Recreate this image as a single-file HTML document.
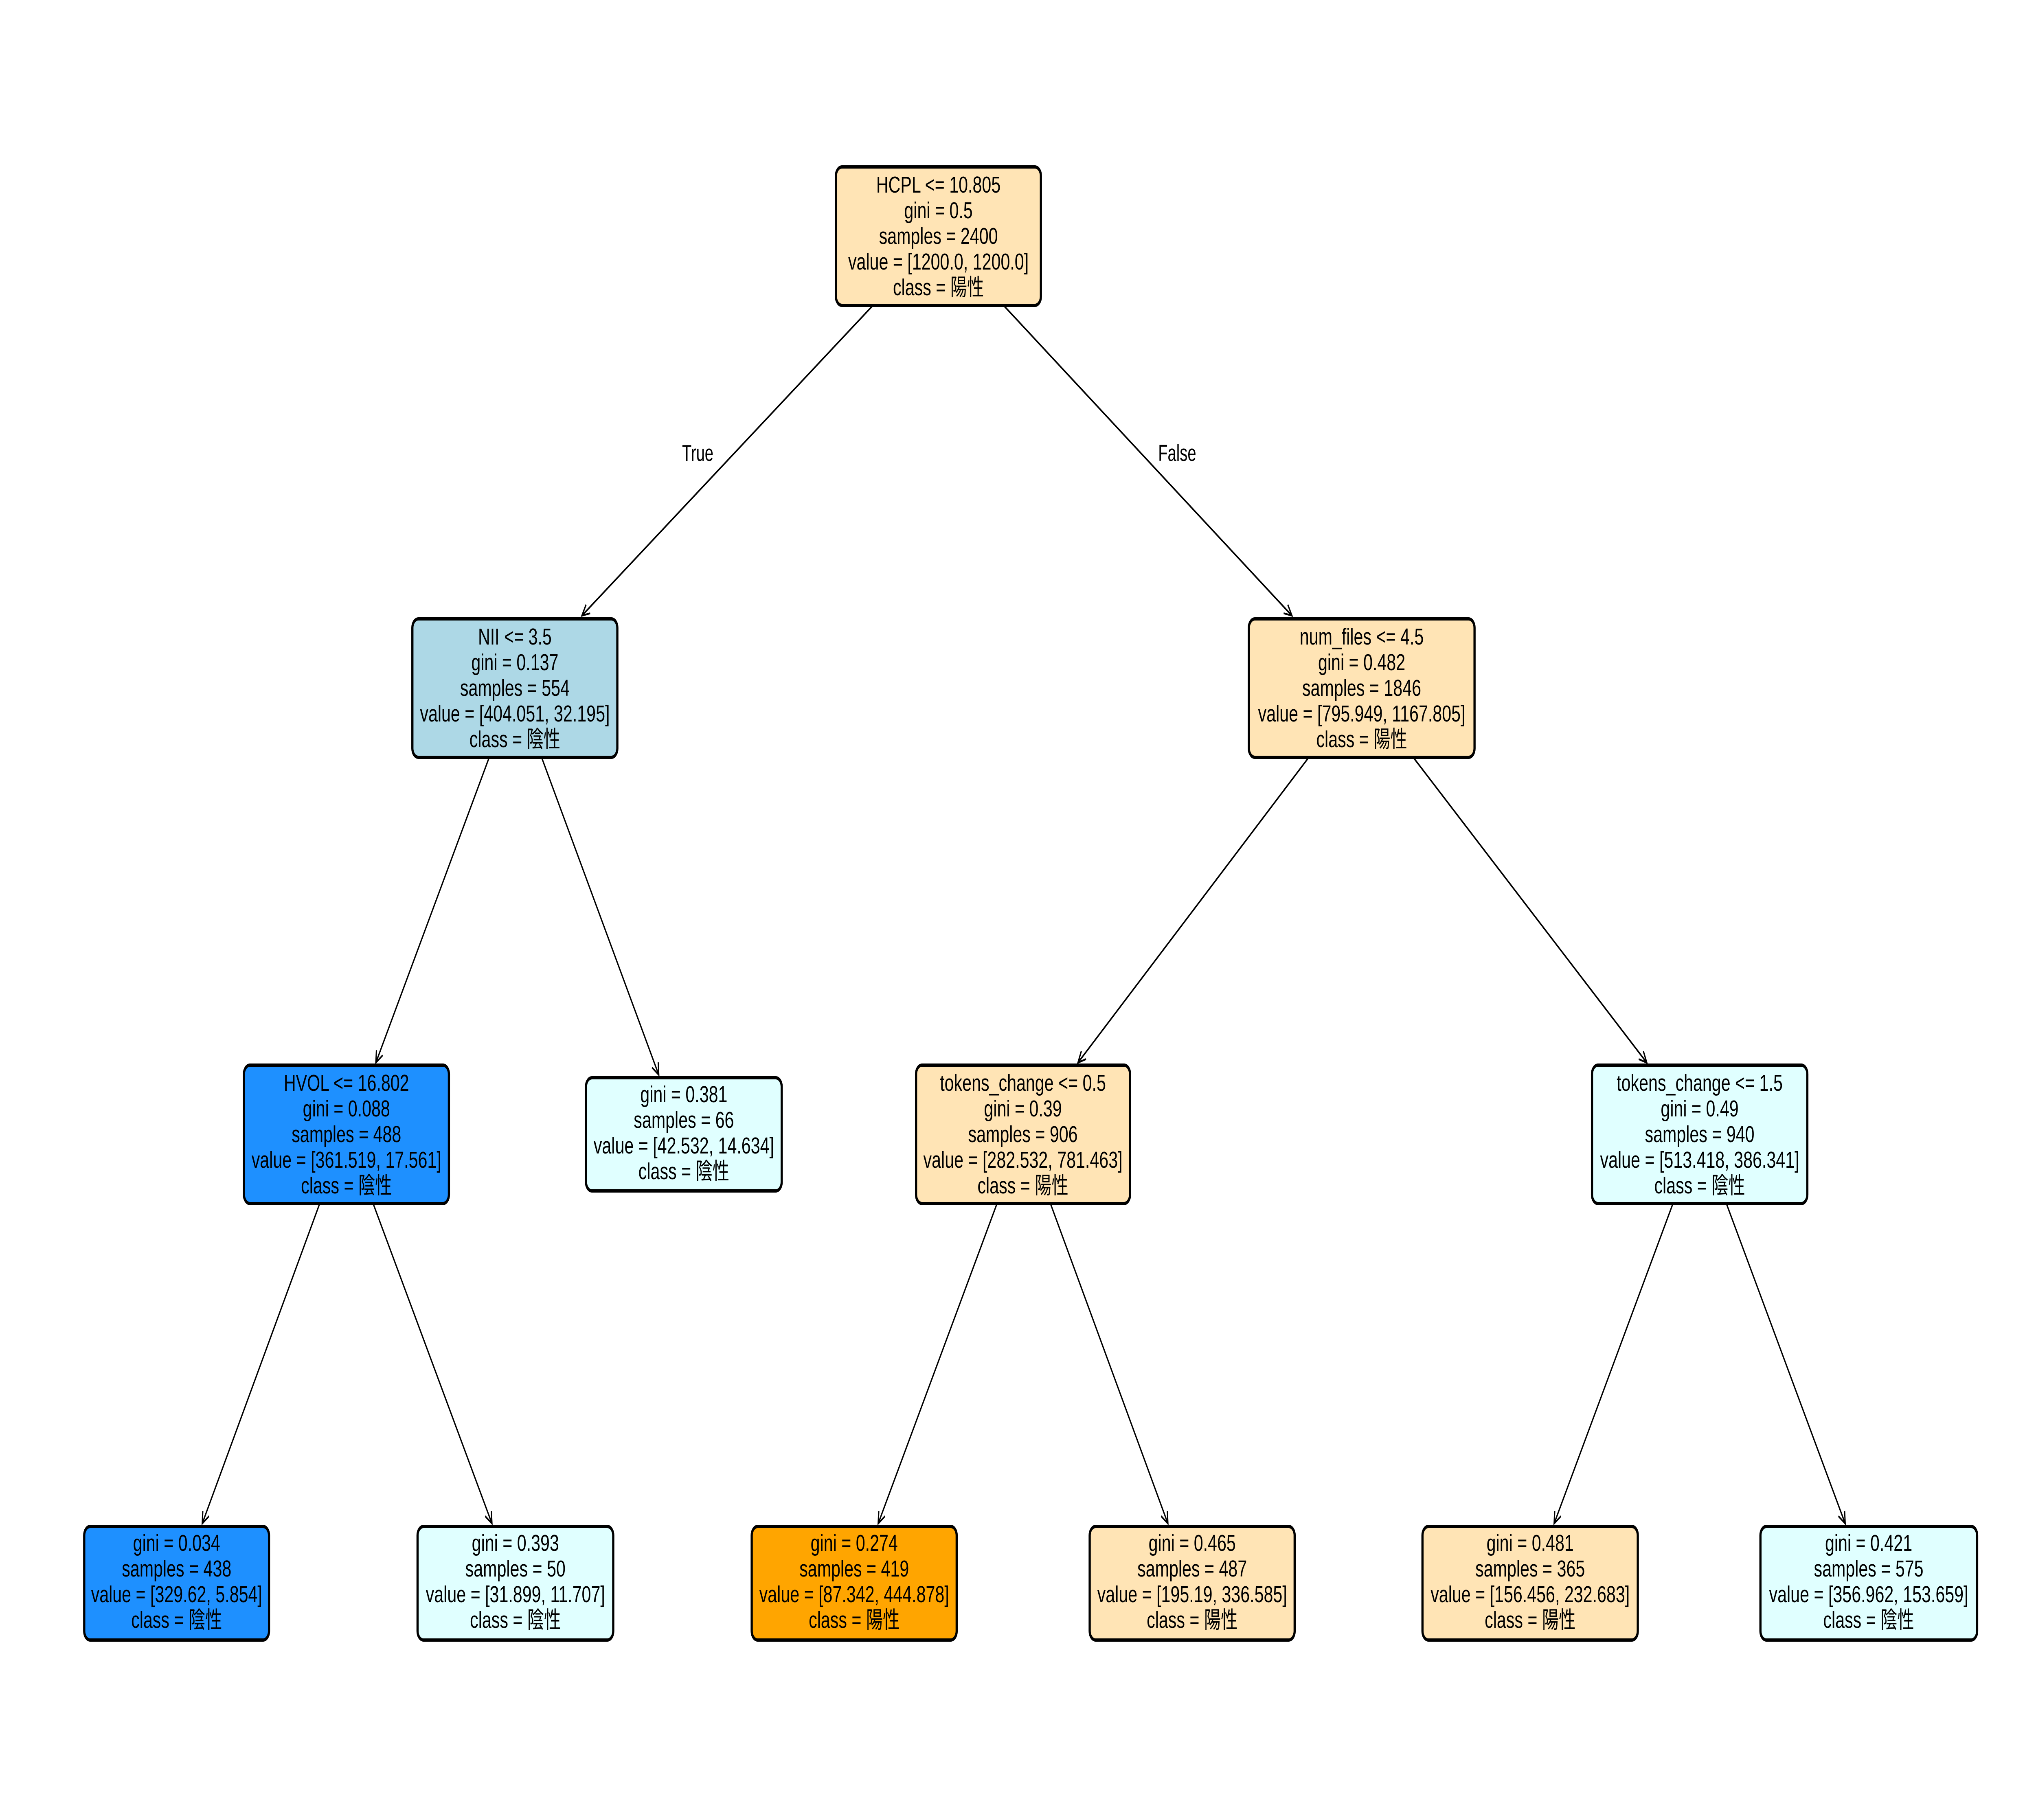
<!DOCTYPE html>
<html><head><meta charset="utf-8"><style>
html,body{margin:0;padding:0;background:#fff;width:100%;height:100%;overflow:hidden;}
svg{display:block;width:100vw;height:100vh}
text{font-family:"Liberation Sans","Noto Sans CJK JP",sans-serif;font-size:57px;fill:#000}
</style></head><body>
<svg viewBox="0 0 7470 4470" preserveAspectRatio="none" xmlns="http://www.w3.org/2000/svg">
<defs>
<marker id="a" markerWidth="40" markerHeight="40" refX="30" refY="15" orient="auto" markerUnits="userSpaceOnUse">
<path d="M2,2 L30,15 L2,28" fill="none" stroke="#000" stroke-width="4.5"/>
</marker>
</defs>
<g stroke="#000" stroke-width="4.5" fill="none" marker-end="url(#a)">
<line x1="3203" y1="750" x2="2135" y2="1512"/>
<line x1="3682" y1="750" x2="4740" y2="1512"/>
<line x1="1795" y1="1860" x2="1379" y2="2610"/>
<line x1="1987" y1="1860" x2="2417" y2="2640"/>
<line x1="4802" y1="1860" x2="3955" y2="2610"/>
<line x1="5185" y1="1860" x2="6042" y2="2610"/>
<line x1="1173" y1="2956" x2="742" y2="3742"/>
<line x1="1369" y1="2956" x2="1805" y2="3742"/>
<line x1="3658" y1="2956" x2="3222" y2="3742"/>
<line x1="3854" y1="2956" x2="4285" y2="3742"/>
<line x1="6138" y1="2956" x2="5702" y2="3742"/>
<line x1="6334" y1="2956" x2="6770" y2="3742"/>
</g>
<text x="2560" y="1132" text-anchor="middle">True</text>
<text x="4319" y="1132" text-anchor="middle">False</text>
<g stroke="#000" stroke-width="8">
<rect x="3067" y="410" width="752" height="340" rx="22" fill="#FFE4B5"/>
<rect x="1513" y="1520" width="752" height="340" rx="22" fill="#ADD8E6"/>
<rect x="4582" y="1520" width="828" height="340" rx="22" fill="#FFE4B5"/>
<rect x="895" y="2616" width="752" height="340" rx="22" fill="#1E90FF"/>
<rect x="2150" y="2647" width="718" height="278" rx="22" fill="#E0FFFF"/>
<rect x="3361" y="2616" width="785" height="340" rx="22" fill="#FFE4B5"/>
<rect x="5841" y="2616" width="790" height="340" rx="22" fill="#E0FFFF"/>
<rect x="309" y="3749" width="678" height="279" rx="22" fill="#1E90FF"/>
<rect x="1532" y="3749" width="718" height="279" rx="22" fill="#E0FFFF"/>
<rect x="2758" y="3749" width="752" height="279" rx="22" fill="#FFA500"/>
<rect x="3998" y="3749" width="752" height="279" rx="22" fill="#FFE4B5"/>
<rect x="5219" y="3749" width="790" height="279" rx="22" fill="#FFE4B5"/>
<rect x="6459" y="3749" width="795" height="279" rx="22" fill="#E0FFFF"/>
</g>
<g text-anchor="middle">
<g transform="translate(3443,0) scale(1.08,1)"><text x="0" y="473">HCPL &lt;= 10.805</text><text x="0" y="536">gini = 0.5</text><text x="0" y="599">samples = 2400</text><text x="0" y="662">value = [1200.0, 1200.0]</text><text x="0" y="725">class = 陽性</text></g>
<g transform="translate(1889,0) scale(1.08,1)"><text x="0" y="1583">NII &lt;= 3.5</text><text x="0" y="1646">gini = 0.137</text><text x="0" y="1709">samples = 554</text><text x="0" y="1772">value = [404.051, 32.195]</text><text x="0" y="1835">class = 陰性</text></g>
<g transform="translate(4996,0) scale(1.08,1)"><text x="0" y="1583">num_files &lt;= 4.5</text><text x="0" y="1646">gini = 0.482</text><text x="0" y="1709">samples = 1846</text><text x="0" y="1772">value = [795.949, 1167.805]</text><text x="0" y="1835">class = 陽性</text></g>
<g transform="translate(1271,0) scale(1.08,1)"><text x="0" y="2679">HVOL &lt;= 16.802</text><text x="0" y="2742">gini = 0.088</text><text x="0" y="2805">samples = 488</text><text x="0" y="2868">value = [361.519, 17.561]</text><text x="0" y="2931">class = 陰性</text></g>
<g transform="translate(2509,0) scale(1.08,1)"><text x="0" y="2707">gini = 0.381</text><text x="0" y="2770">samples = 66</text><text x="0" y="2833">value = [42.532, 14.634]</text><text x="0" y="2896">class = 陰性</text></g>
<g transform="translate(3753,0) scale(1.08,1)"><text x="0" y="2679">tokens_change &lt;= 0.5</text><text x="0" y="2742">gini = 0.39</text><text x="0" y="2805">samples = 906</text><text x="0" y="2868">value = [282.532, 781.463]</text><text x="0" y="2931">class = 陽性</text></g>
<g transform="translate(6236,0) scale(1.08,1)"><text x="0" y="2679">tokens_change &lt;= 1.5</text><text x="0" y="2742">gini = 0.49</text><text x="0" y="2805">samples = 940</text><text x="0" y="2868">value = [513.418, 386.341]</text><text x="0" y="2931">class = 陰性</text></g>
<g transform="translate(648,0) scale(1.08,1)"><text x="0" y="3809">gini = 0.034</text><text x="0" y="3872">samples = 438</text><text x="0" y="3935">value = [329.62, 5.854]</text><text x="0" y="3998">class = 陰性</text></g>
<g transform="translate(1891,0) scale(1.08,1)"><text x="0" y="3809">gini = 0.393</text><text x="0" y="3872">samples = 50</text><text x="0" y="3935">value = [31.899, 11.707]</text><text x="0" y="3998">class = 陰性</text></g>
<g transform="translate(3134,0) scale(1.08,1)"><text x="0" y="3809">gini = 0.274</text><text x="0" y="3872">samples = 419</text><text x="0" y="3935">value = [87.342, 444.878]</text><text x="0" y="3998">class = 陽性</text></g>
<g transform="translate(4374,0) scale(1.08,1)"><text x="0" y="3809">gini = 0.465</text><text x="0" y="3872">samples = 487</text><text x="0" y="3935">value = [195.19, 336.585]</text><text x="0" y="3998">class = 陽性</text></g>
<g transform="translate(5614,0) scale(1.08,1)"><text x="0" y="3809">gini = 0.481</text><text x="0" y="3872">samples = 365</text><text x="0" y="3935">value = [156.456, 232.683]</text><text x="0" y="3998">class = 陽性</text></g>
<g transform="translate(6856,0) scale(1.08,1)"><text x="0" y="3809">gini = 0.421</text><text x="0" y="3872">samples = 575</text><text x="0" y="3935">value = [356.962, 153.659]</text><text x="0" y="3998">class = 陰性</text></g>
</g>
</svg>
</body></html>
